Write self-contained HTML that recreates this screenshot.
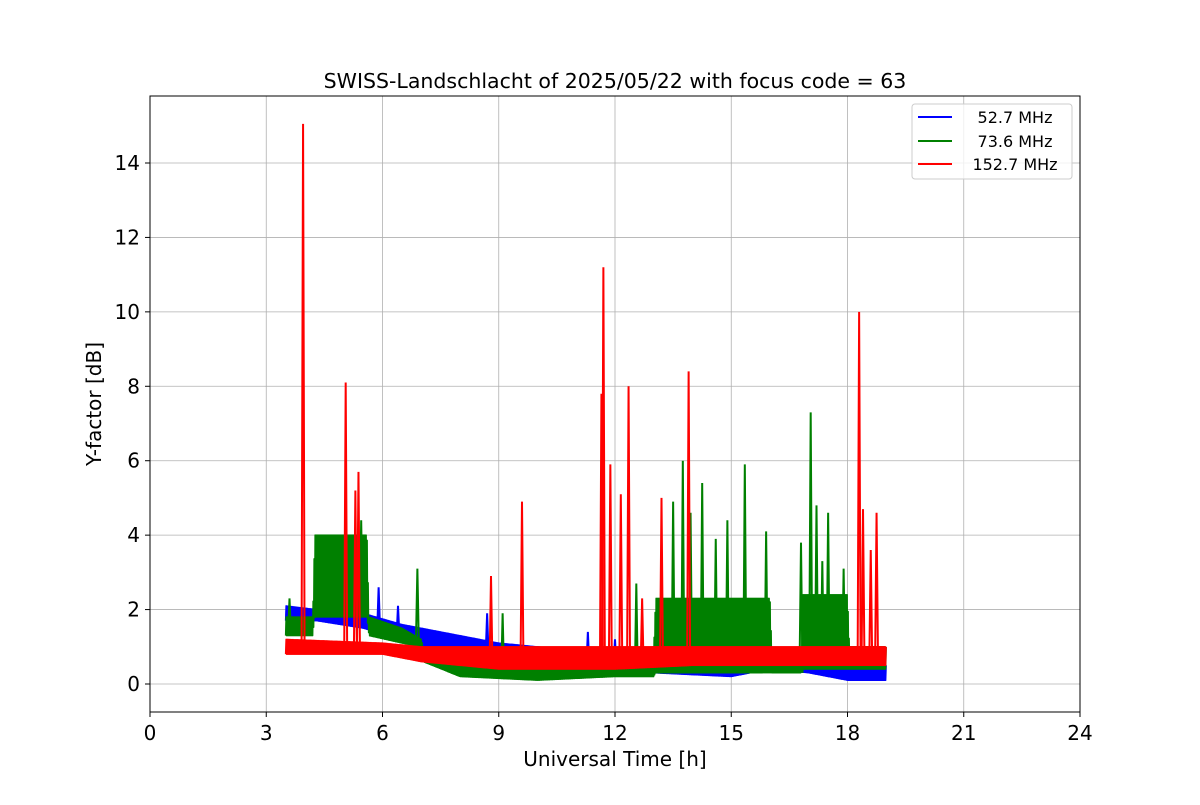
<!DOCTYPE html>
<html><head><meta charset="utf-8"><style>
body{margin:0;background:#fff;}
svg text{font-family:"DejaVu Sans","Liberation Sans",sans-serif;}
</style></head><body>
<svg id="chart" width="1200" height="800" xmlns="http://www.w3.org/2000/svg">
<rect width="1200" height="800" fill="#fff"/>
<g id="grid"></g>
<g id="series"></g>
<rect x="150" y="96" width="930" height="616" fill="none" stroke="#000" stroke-width="1"/>
<g id="axes"></g>
<text x="615" y="88" text-anchor="middle" font-size="20.5">SWISS-Landschlacht of 2025/05/22 with focus code = 63</text>
<text x="615" y="766" text-anchor="middle" font-size="20">Universal Time [h]</text>
<text x="101" y="404" text-anchor="middle" font-size="20" transform="rotate(-90 101 404)">Y-factor [dB]</text>
<g>
<rect x="912" y="104" width="160" height="75" rx="3" fill="#fff" fill-opacity="0.8" stroke="#ccc"/>
<g><line x1="918" y1="117" x2="952" y2="117" stroke="blue" stroke-width="2"/><text x="1015" y="123" text-anchor="middle" font-size="16">52.7 MHz</text></g>
<g><line x1="918" y1="141" x2="952" y2="141" stroke="green" stroke-width="2"/><text x="1015" y="147" text-anchor="middle" font-size="16">73.6 MHz</text></g>
<g><line x1="918" y1="164" x2="952" y2="164" stroke="red" stroke-width="2"/><text x="1015" y="170" text-anchor="middle" font-size="16">152.7 MHz</text></g>
</g>
</svg>
<script>
const xTicks=[0,3,6,9,12,15,18,21,24];
const yTicks=[0,2,4,6,8,10,12,14];
const blueT=[3.5,4.3,5.5,6.5,7.5,9,10,12,13,15,16,17,18,19];
const blueLo=[1.7,1.7,1.5,1.2,0.9,0.7,0.5,0.4,0.3,0.2,0.4,0.3,0.1,0.1];
const blueHi=[2.1,2.0,1.9,1.6,1.4,1.1,1.0,0.8,0.7,0.7,0.8,0.7,0.5,0.5];
const blueSpikeT=[5.9,6.4,8.7,11.3,12.0];
const blueSpikeV=[2.6,2.1,1.9,1.4,1.2];
const greenT=[3.5,4.2,4.25,5.6,5.65,6.5,7,7.05,8,10,12,13,13.05,16,16.05,16.8,16.85,18,18.05,19];
const greenLo=[1.3,1.3,1.8,1.8,1.3,1.1,1.0,0.6,0.2,0.1,0.2,0.2,0.3,0.3,0.3,0.3,0.4,0.4,0.4,0.4];
const greenHi=[1.8,1.8,4.0,4.0,1.8,1.5,1.2,1.0,0.7,0.5,0.6,1.0,2.3,2.3,0.8,0.8,2.4,2.4,1.0,1.0];
const greenSpikeT=[3.6,5.45,6.9,9.1,12.55,13.5,13.75,13.95,14.25,14.6,14.9,15.35,15.9,16.8,17.05,17.2,17.35,17.5,17.9];
const greenSpikeV=[2.3,4.4,3.1,1.9,2.7,4.9,6.0,4.6,5.4,3.9,4.4,5.9,4.1,3.8,7.3,4.8,3.3,4.6,3.1];
const redT=[3.5,6,7,9,12,14,19];
const redLo=[0.8,0.8,0.6,0.4,0.4,0.5,0.5];
const redHi=[1.2,1.1,1.0,1.0,1.0,1.0,1.0];
const redSpikeT=[3.95,5.05,5.3,5.38,8.8,9.6,11.65,11.7,11.88,12.15,12.35,12.7,13.2,13.9,18.3,18.4,18.6,18.75];
const redSpikeV=[15.05,8.1,5.2,5.7,2.9,4.9,7.8,11.2,5.9,5.1,8.0,2.3,5.0,8.4,10.0,4.7,3.6,4.6];

const NS="http://www.w3.org/2000/svg";
const X=v=>150+v*930/24;
const Y=v=>684-v*(521/14);
function mk(tag,attrs,parent){const e=document.createElementNS(NS,tag);for(const k in attrs)e.setAttribute(k,attrs[k]);parent.appendChild(e);return e;}
const grid=document.getElementById('grid'),axes=document.getElementById('axes'),ser=document.getElementById('series');
xTicks.forEach(t=>{
 const g=mk('line',{x1:X(t),x2:X(t),y1:96,y2:712,stroke:'#b0b0b0','stroke-width':0.8},grid);
 
 
 mk('line',{x1:X(t),x2:X(t),y1:712,y2:717,stroke:'#000'},axes);
 const l=mk('text',{x:X(t),y:740,'text-anchor':'middle','font-size':20},axes);
 l.textContent=t;
 
 
});
yTicks.forEach(t=>{
 const g=mk('line',{x1:150,x2:1080,y1:Y(t),y2:Y(t),stroke:'#b0b0b0','stroke-width':0.8},grid);
 
 
 mk('line',{x1:145,x2:150,y1:Y(t),y2:Y(t),stroke:'#000'},axes);
 const l=mk('text',{x:140,y:Y(t)+7,'text-anchor':'end','font-size':20},axes);
 l.textContent=t;
 
 
});
function interp(T,V,t){if(t<=T[0])return V[0];for(let i=1;i<T.length;i++){if(t<=T[i]){const f=(t-T[i-1])/(T[i]-T[i-1]);return V[i-1]+f*(V[i]-V[i-1]);}}return V[V.length-1];}
function drawSeries(name,color,T,lo,hi,sT,sV){
 let pts=[];let k=0;
 for(let px=X(T[0]);px<=X(T[T.length-1]);px+=0.5){
  const t=(px-150)*24/930;
  const v=(k%2===0)?interp(T,lo,t):interp(T,hi,t);
  pts.push(px.toFixed(2)+','+Y(v).toFixed(1));k++;
 }
 const p=mk('polyline',{points:pts.join(' '),fill:'none',stroke:color,'stroke-width':1.5,'stroke-linejoin':'round'},ser);
 
 
 sT.forEach((t,i)=>{
  const base=interp(T,lo,t);
  const s=mk('polyline',{points:`${X(t)-1.5},${Y(base)} ${X(t)},${Y(sV[i])} ${X(t)+1.5},${Y(base)}`,fill:'none',stroke:color,'stroke-width':2},ser);
  
  
 });
}
drawSeries('series-52mhz','blue',blueT,blueLo,blueHi,blueSpikeT,blueSpikeV);
drawSeries('series-73mhz','green',greenT,greenLo,greenHi,greenSpikeT,greenSpikeV);
drawSeries('series-152mhz','red',redT,redLo,redHi,redSpikeT,redSpikeV);
</script>
</body></html>
